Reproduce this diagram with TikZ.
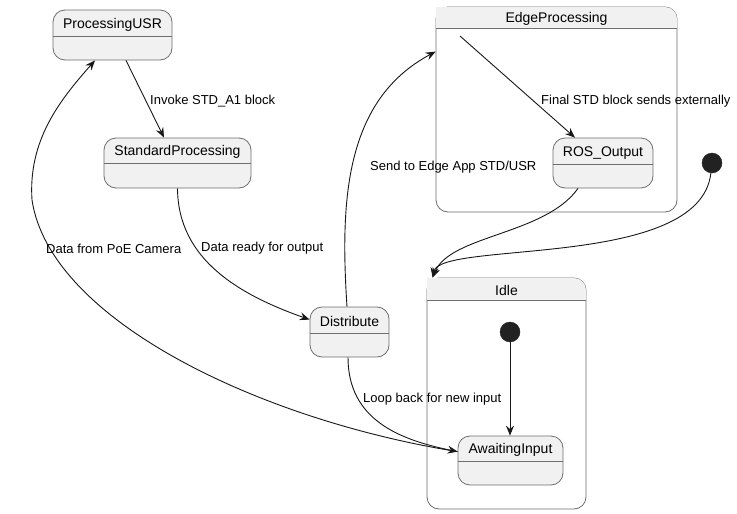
\documentclass[tikz,border=0pt]{standalone}
\usepackage{fontspec}
\setmainfont{Liberation Sans}
\usetikzlibrary{arrows.meta}
\definecolor{stfill}{HTML}{F1F1F1}
\definecolor{stborder}{HTML}{6E6E6E}
\definecolor{ink}{HTML}{181818}
\definecolor{dot}{HTML}{222222}
\tikzset{
  st/.style={draw=stborder, fill=stfill, rounded corners=12pt, line width=0.8pt, inner sep=0pt},
  cont/.style={draw=stborder, fill=white, rounded corners=12pt, line width=0.8pt, inner sep=0pt},
  divider/.style={draw=stborder, line width=0.8pt},
  sttitle/.style={font=\fontsize{14}{16}\selectfont, text=black, inner sep=0pt},
  lbl/.style={font=\fontsize{13}{15}\selectfont, text=black, inner sep=0pt, anchor=west},
  arr/.style={draw=ink, line width=0.9pt, -{Stealth[length=10pt,width=8pt,inset=3.5pt]}},
  startdot/.style={circle, fill=dot, draw=dot, minimum size=20pt, inner sep=0pt}
}
\begin{document}
\begin{tikzpicture}[x=1pt,y=-1pt]
\useasboundingbox[fill=white] (0,0) rectangle (737,514);

% Containers
\node[cont, minimum width=241pt, minimum height=205pt] (edge) at (556.5,109.5) {};
\fill[stfill, rounded corners=12pt] ([xshift=0.4pt,yshift=-0.4pt]edge.north west) -- ([xshift=-0.4pt,yshift=-0.4pt]edge.north east) [sharp corners]-- ([xshift=-0.4pt,yshift=-21.6pt]edge.north east) -- ([xshift=0.4pt,yshift=-21.6pt]edge.north west) -- cycle;
\draw[divider] ([yshift=-22pt]edge.north west) -- ([yshift=-22pt]edge.north east);
\node[sttitle] (edge-t) at ([yshift=-12.5pt]edge.north) {EdgeProcessing};

\node[cont, minimum width=159pt, minimum height=231pt] (idle) at (506.5,393.5) {};
\fill[stfill, rounded corners=12pt] ([xshift=0.4pt,yshift=-0.4pt]idle.north west) -- ([xshift=-0.4pt,yshift=-0.4pt]idle.north east) [sharp corners]-- ([xshift=-0.4pt,yshift=-22.6pt]idle.north east) -- ([xshift=0.4pt,yshift=-22.6pt]idle.north west) -- cycle;
\draw[divider] ([yshift=-23pt]idle.north west) -- ([yshift=-23pt]idle.north east);
\node[sttitle] (idle-t) at ([yshift=-13pt]idle.north) {Idle};

% States
\node[st, minimum width=119pt, minimum height=50pt] (pusr) at (112.5,35) {};
\draw[divider] ([yshift=-27pt]pusr.north west) -- ([yshift=-27pt]pusr.north east);
\node[sttitle] (pusr-t) at ([yshift=-15pt]pusr.north) {ProcessingUSR};

\node[st, minimum width=147pt, minimum height=50pt] (std) at (177.5,163) {};
\draw[divider] ([yshift=-26pt]std.north west) -- ([yshift=-26pt]std.north east);
\node[sttitle] (std-t) at ([yshift=-14.5pt]std.north) {StandardProcessing};

\node[st, minimum width=100pt, minimum height=50pt] (ros) at (603,163) {};
\draw[divider] ([yshift=-27pt]ros.north west) -- ([yshift=-27pt]ros.north east);
\node[sttitle] (ros-t) at ([yshift=-15pt]ros.north) {ROS\_Output};

\node[st, minimum width=79pt, minimum height=50pt] (dist) at (349.5,332) {};
\draw[divider] ([yshift=-27pt]dist.north west) -- ([yshift=-27pt]dist.north east);
\node[sttitle] (dist-t) at ([yshift=-15pt]dist.north) {Distribute};

\node[st, minimum width=105pt, minimum height=49pt] (await) at (510.5,460.5) {};
\draw[divider] ([yshift=-26pt]await.north west) -- ([yshift=-26pt]await.north east);
\node[sttitle] (await-t) at ([yshift=-14.5pt]await.north) {AwaitingInput};

% Start points
\node[startdot] (s1) at (712,163) {};
\node[startdot] (s2) at (510,332) {};
\coordinate (edgein) at (460,36);

% Transitions
\draw[arr] ([xshift=13.5pt]pusr.south) -- ([xshift=-13.5pt]std.north);
\node[lbl] (l1) at (150,101.5) {Invoke STD\_A1 block};

\draw[arr] (std.south) .. controls (178,260) and (240,295) .. ([yshift=-13pt]dist.north west);
\node[lbl] (l2) at (201,248.5) {Data ready for output};

\draw[arr] ([xshift=-2.5pt]dist.north) .. controls (340,200) and (345,100) .. ([yshift=-45pt]edge.north west);
\node[lbl] (l3) at (370,167.5) {Send to Edge App STD/USR};

\draw[arr] (edgein) -- ([xshift=-28pt]ros.north);
\node[lbl] (l4) at (541,101.5) {Final STD block sends externally};

\draw[arr] ([xshift=-25pt]ros.south) .. controls (545,235) and (450,235) .. ([xshift=6pt]idle.north west);
\draw[arr] (s1) .. controls (700,270) and (440,240) .. ([xshift=6pt]idle.north west);

\draw[arr] (s2) -- (await.north -| s2);

\draw[arr] ([xshift=-1.5pt]dist.south) .. controls (348,420) and (400,440) .. ([yshift=-16pt]await.north west);
\node[lbl] (l5) at (363,399.5) {Loop back for new input};

\draw[arr] ([yshift=-16pt]await.north west) .. controls (260,420) and (50,320) .. (32,200) .. controls (28,140) and (60,100) .. ([xshift=-17.5pt]pusr.south);
\node[lbl] (l6) at (46,248.5) {Data from PoE Camera};

\end{tikzpicture}
\end{document}
